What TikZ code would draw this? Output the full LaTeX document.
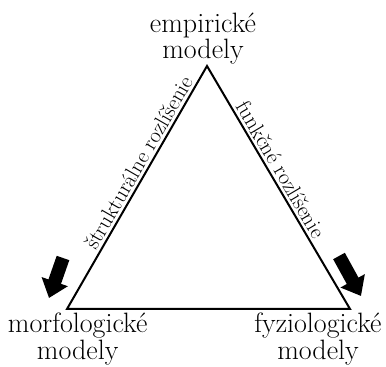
\documentclass[tikz,border=0pt]{standalone}
\usepackage{tikz}
\usetikzlibrary{positioning, arrows.meta, calc}

\begin{document}
\begin{tikzpicture}[
        x=0.75pt,
        y=-0.75pt,
        corner/.style={
            align=center,
            font=\fontsize{21}{20}\selectfont,
            inner sep=1pt
        },
        side/.style={
            font=\fontsize{16.5}{18}\selectfont,
            sloped,
            above,
            inner sep=2pt
        },
        edge/.style={
            line width=1.5pt,
            line join=miter
        },
        bigarrow/.style={
            line width=10pt,
            -{Triangle[length=13pt, width=20pt]}
        }
    ]

    \useasboundingbox (0,0) rectangle (386,367);

    % --------------------------------------------------------
    % Triangle corners
    % --------------------------------------------------------

    \coordinate (apex) at (207,66);
    \coordinate (morf) at (67,309);
    \coordinate (fyz) at (350,309);

    \node[corner, above=0pt of apex, xshift=-3pt] (empLabel)
        {empirické\\modely};

    \node[corner, below=2pt of morf, xshift=8pt] (morfLabel)
        {morfologické\\modely};

    \node[corner, below=2pt of fyz, xshift=-24pt] (fyzLabel)
        {fyziologické\\modely};

    % --------------------------------------------------------
    % Edges
    % --------------------------------------------------------

    \draw[edge]
        (morf)
        -- node[side, pos=0.58] {štrukturálne rozlíšenie}
        (apex)
        -- node[side, pos=0.45] {funkčné rozlíšenie}
        (fyz)
        -- cycle;

    % --------------------------------------------------------
    % Block arrows
    % --------------------------------------------------------

    \coordinate (leftTail) at (63,258);
    \coordinate (leftTip) at (49,298);
    \coordinate (rightTail) at (339,256);
    \coordinate (rightTip) at (361,296);

    \draw[bigarrow]
        (leftTail) -- (leftTip);

    \draw[bigarrow]
        (rightTail) -- (rightTip);

\end{tikzpicture}
\end{document}
